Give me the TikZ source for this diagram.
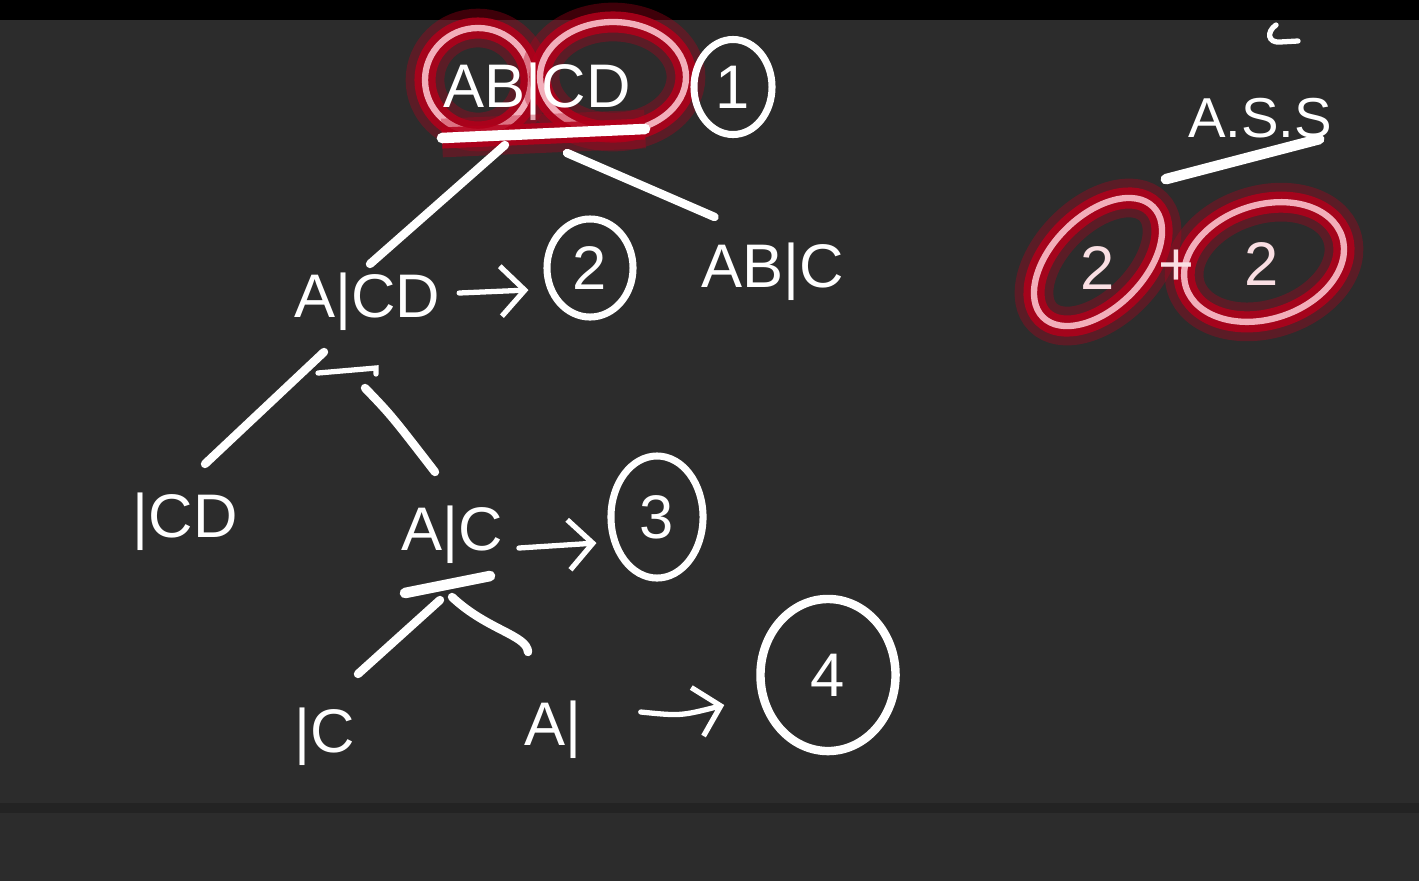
\documentclass[tikz,border=0pt]{standalone}
\usepackage{fontspec}
\setmainfont{Liberation Sans}
\usetikzlibrary{arrows.meta, shapes.geometric, calc}
\definecolor{board}{HTML}{2C2C2C}
\definecolor{strip}{HTML}{232323}
\definecolor{glowred}{HTML}{B3001B}
\definecolor{glowpink}{HTML}{F2AEBA}
\begin{document}
\begin{tikzpicture}[
  x=0.01cm, y=-0.01cm,
  ink/.style={draw=white, line width=2.4pt, line cap=round},
  thinink/.style={draw=white, line width=1.5pt, line cap=round},
  arr/.style={thinink, -{Straight Barb[length=2.4mm, width=5mm]}},
  lbl/.style={text=white, font=\fontsize{17.5}{17.5}\selectfont, inner sep=1pt},
  num/.style={ellipse, draw=white, line width=2pt, text=white, font=\fontsize{17.5}{17.5}\selectfont, inner sep=0pt},
  glow/.style={draw=glowpink, line width=1.8pt, line cap=round,
    preaction={draw=glowred, line width=11pt, opacity=.35},
    preaction={draw=glowred, line width=6pt, opacity=.85}}
]
% board
\fill[black] (0,0) rectangle (1419,20);
\fill[board] (0,20) rectangle (1419,881);
\fill[strip] (0,803) rectangle (1419,813);
\useasboundingbox (0,0) rectangle (1419,881);

% top split
\draw[glow] (478,80) ellipse [x radius=53, y radius=52];
\draw[glow] (613,77) ellipse [x radius=73, y radius=55];
\node[lbl] (root) at (537,92) {AB|CD};
\node[num, minimum width=0.78cm, minimum height=0.95cm] (one) at (733,87) {1};
\coordinate (rootcut) at (540,133);
\draw[glow, draw=white, line width=3pt] ($(rootcut)+(-98,5)$) -- ($(rootcut)+(105,-4)$);

% second level
\node[lbl] (acd) at (367,302) {A|CD};
\node[num, minimum width=0.86cm, minimum height=0.98cm] (two) at (590,268) {2};
\node[lbl] (abc) at (773,272) {AB|C};
\draw[ink] ($(rootcut)+(-35,12)$) -- ($(acd.north)+(3,-5)$);
\draw[ink] ($(rootcut)+(27,20)$) -- ($(abc.north west)+(17,-22)$);
\draw[arr] ($(acd.east)+(15,-9)$) -- ($(two.west)+(-15,22)$);

% third level
\coordinate (acdcut) at (346,370);
\draw[thinink] ($(acdcut)+(-28,3)$) -- ($(acdcut)+(30,-2)$) -- ++(0,6);
\node[lbl] (bcd) at (185,522) {|CD};
\node[lbl] (ac) at (452,535) {A|C};
\node[num, minimum width=0.92cm, minimum height=1.22cm] (three) at (657,517) {3};
\draw[ink] ($(acdcut)+(-22,-18)$) -- ($(bcd.north)+(20,-25)$);
\draw[ink] ($(acdcut)+(19,18)$) .. controls ($(acdcut)+(45,45)$) .. ($(ac.north)+(-17,-30)$);
\draw[arr] ($(ac.east)+(12,13)$) -- ($(three.west)+(-11,26)$);

% fourth level
\coordinate (accut) at (447,585);
\draw[ink, line width=3pt] ($(accut)+(-42,8)$) -- ($(accut)+(43,-9)$);
\node[lbl] (jc) at (325,737) {|C};
\node[lbl] (ja) at (553,730) {A|};
\node[num, minimum width=1.35cm, minimum height=1.52cm, line width=2.4pt] (four) at (828,675) {4};
\draw[ink] ($(accut)+(-7,15)$) -- ($(jc.north)+(33,-30)$);
\draw[ink] ($(accut)+(5,12)$) .. controls ($(accut)+(40,45)$) and ($(accut)+(80,50)$) .. ($(ja.north)+(-25,-45)$);
\draw[arr] ($(ja.east)+(55,-18)$) .. controls ($(ja.east)+(95,-14)$) .. ($(four.west)+(-32,30)$);

% right corner
\draw[thinink] (1276,25) .. controls (1266,32) and (1268,43) .. (1280,42) -- (1298,41);
\node[lbl, font=\fontsize{16}{16}\selectfont] (ass) at (1260,118) {A.S.S};
\draw[ink, line width=3pt] ($(ass.south west)+(-18,37)$) -- ($(ass.south east)+(-17,-3)$);
\coordinate (sa) at (1098,262);
\coordinate (sb) at (1264,262);
\draw[glow, rotate around={45:(sa)}] (sa) ellipse [x radius=78, y radius=46];
\draw[glow, rotate around={18:(sb)}] (sb) ellipse [x radius=82, y radius=57];
\node[lbl, text=glowpink!40!white] (sa2) at (1098,268) {2};
\node[lbl, text=glowpink!40!white] (plus) at (1176,268) {+};
\node[lbl, text=glowpink!40!white] (sb2) at (1262,264) {2};
\end{tikzpicture}
\end{document}
